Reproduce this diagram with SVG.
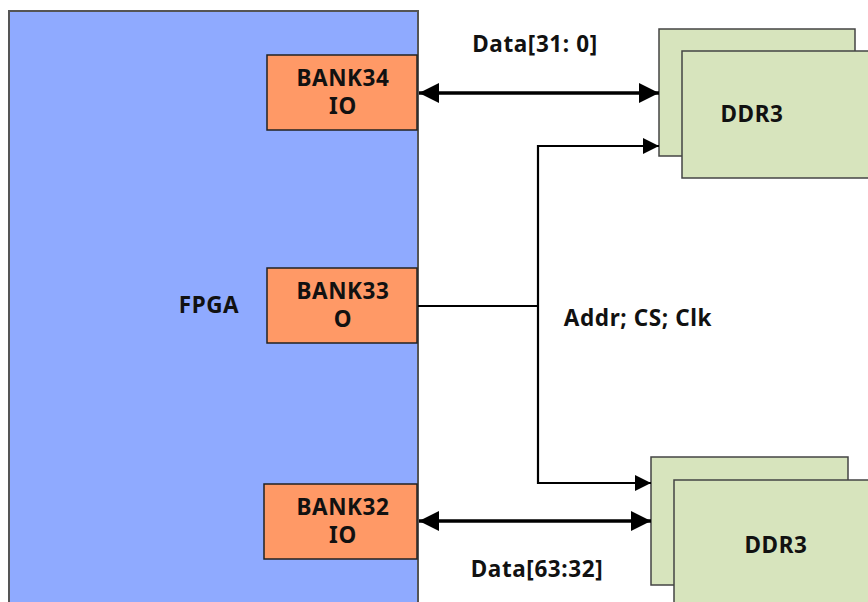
<svg xmlns="http://www.w3.org/2000/svg" width="868" height="602" viewBox="0 0 868 602">
<defs>
<style>
.t{font-family:"Noto Sans","Open Sans","DejaVu Sans",sans-serif;font-weight:bold;font-size:22.5px;letter-spacing:0.6px;fill:#111;text-anchor:middle}
.bank{fill:#ff9966;stroke:#222;stroke-width:1.5}
.ddr{fill:#d7e4bd;stroke:#444;stroke-width:1.5}
.bus{stroke:#000;stroke-width:3.5;fill:none}
.sig{stroke:#000;stroke-width:2.2;fill:none}
</style>
<marker id="big" viewBox="0 0 10 10" refX="10" refY="5" markerWidth="26" markerHeight="20" markerUnits="userSpaceOnUse" orient="auto-start-reverse">
<path d="M0,0 L10,5 L0,10 z" fill="#000"/>
</marker>
<marker id="sm" viewBox="0 0 10 10" refX="10" refY="5" markerWidth="20" markerHeight="16" markerUnits="userSpaceOnUse" orient="auto">
<path d="M0,0 L10,5 L0,10 z" fill="#000"/>
</marker>
</defs>
<rect width="868" height="602" fill="#fff"/>
<g id="fpga">
<rect x="9" y="11" width="409" height="592" fill="#8faaff" stroke="#555" stroke-width="2"/>
<text class="t" x="209" y="313">FPGA</text>
</g>
<g id="bank34">
<rect class="bank" x="267" y="55" width="150" height="75"/>
<text class="t" x="343" y="86">BANK34</text>
<text class="t" x="343" y="114">IO</text>
</g>
<g id="bank33">
<rect class="bank" x="267" y="268" width="150" height="75"/>
<text class="t" x="343" y="299">BANK33</text>
<text class="t" x="343" y="327">O</text>
</g>
<g id="bank32">
<rect class="bank" x="264" y="484" width="153" height="75"/>
<text class="t" x="343" y="515">BANK32</text>
<text class="t" x="343" y="543">IO</text>
</g>
<g id="ddr3-top">
<rect class="ddr" x="659" y="29" width="196" height="127"/>
<rect class="ddr" x="682" y="51" width="200" height="127"/>
<text class="t" x="752" y="122">DDR3</text>
</g>
<g id="ddr3-bottom">
<rect class="ddr" x="651" y="457" width="197" height="128"/>
<rect class="ddr" x="674" y="480" width="200" height="130"/>
<text class="t" x="776" y="553">DDR3</text>
</g>
<g id="connectors">
<line class="bus" x1="419" y1="93" x2="659" y2="93" marker-start="url(#big)" marker-end="url(#big)"/>
<line class="bus" x1="419" y1="521" x2="651" y2="521" marker-start="url(#big)" marker-end="url(#big)"/>
<polyline class="sig" points="418,306 538,306"/>
<polyline class="sig" points="659,146 538,146 538,483 651,483" marker-end="url(#sm)"/>
<line class="sig" x1="600" y1="146" x2="659" y2="146" marker-end="url(#sm)"/>
<text class="t" x="535" y="52">Data[31: 0]</text>
<text class="t" x="638" y="326">Addr; CS; Clk</text>
<text class="t" x="537" y="577">Data[63:32]</text>
</g>
</svg>
